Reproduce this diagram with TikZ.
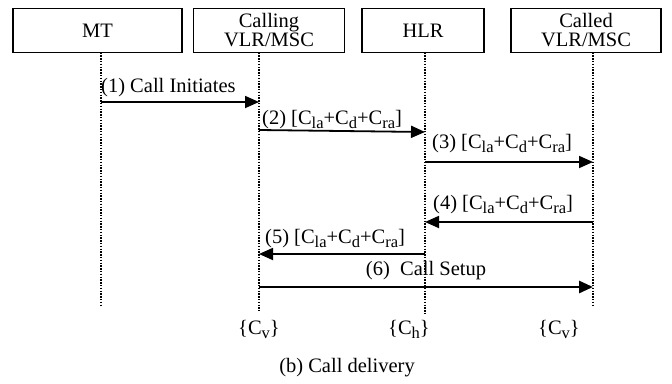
\documentclass[tikz,border=0pt]{standalone}
\usepackage{fontspec}
\setmainfont{Liberation Serif}
\usetikzlibrary{arrows.meta}

% lowered index set a little larger than the default subscript size
\newcommand{\sub}[1]{\raisebox{-4pt}{\fontsize{16.5}{16.5}\selectfont #1}}
\newcommand{\cost}{[C\sub{la}+C\sub{d}+C\sub{ra}]}

\begin{document}
\begin{tikzpicture}[x=1pt,y=-1pt,
  every node/.style={font=\fontsize{20.5}{19}\selectfont, inner sep=0pt},
  entity/.style={draw, line width=1.8pt, minimum height=44pt, align=center},
  lifeline/.style={line width=1.3pt, dash pattern=on 1.4pt off 1.4pt},
  msg/.style={line width=1.8pt, -{Triangle[length=14pt,width=12pt]}},
  bigmsg/.style={msg, line width=2.8pt},
  lbl/.style={anchor=base west}]
\useasboundingbox (0,0) rectangle (672,383);

% entities
\node[entity, minimum width=169pt] (mt)   at (97.5,30.5) {MT};
\node[entity, minimum width=151pt] (cvlr) at (269,30.5) {Calling\\VLR/MSC};
\node[entity, minimum width=122pt] (hlr)  at (423,30.5) {HLR};
\node[entity, minimum width=150pt] (dvlr) at (586,30.5) {Called\\VLR/MSC};

% lifelines
\coordinate (mtT) at (101,52.5);  \coordinate (mtB) at (101,307);
\coordinate (cvT) at (259,52.5);  \coordinate (cvB) at (259,311);
\coordinate (hlT) at (425,52.5);  \coordinate (hlB) at (425,314);
\coordinate (dvT) at (593,52.5);  \coordinate (dvB) at (593,307);
\draw[lifeline] (mtT) -- (mtB);
\draw[lifeline] (cvT) -- (cvB);
\draw[lifeline] (hlT) -- (hlB);
\draw[lifeline] (dvT) -- (dvB);

% message end points
\coordinate (m1a) at (101,102); \coordinate (m1b) at (259,102);
\coordinate (m2a) at (259,130); \coordinate (m2b) at (425,132);
\coordinate (m3a) at (425,162); \coordinate (m3b) at (593,162);
\coordinate (m4a) at (593,222); \coordinate (m4b) at (425,222);
\coordinate (m5a) at (425,254); \coordinate (m5b) at (259,254);
\coordinate (m6a) at (259,287); \coordinate (m6b) at (593,287);

% messages
\draw[msg] (m1a) -- (m1b);
\draw[msg] (m2a) -- (m2b);
\draw[msg] (m3a) -- (m3b);
\draw[msg] (m4a) -- (m4b);
\draw[msg] (m5a) -- (m5b);
\draw[bigmsg] (m6a) -- (m6b);

% message labels
\node[lbl] (l1) at (101,92)  {(1) Call Initiates};
\node[lbl] (l2) at (262,124) {(2) \cost};
\node[lbl] (l3) at (432,148) {(3) \cost};
\node[lbl] (l4) at (433,209) {(4) \cost};
\node[lbl] (l5) at (265,243) {(5) \cost};
\node[anchor=base] (l6) at (426,275) {(6)\ \ Call Setup};

% cost sets
\node[anchor=base] (s1) at (259,334) {\{C\sub{v}\}};
\node[anchor=base] (s2) at (409,334) {\{C\sub{h}\}};
\node[anchor=base] (s3) at (559,334) {\{C\sub{v}\}};

% caption
\node[anchor=base] (cap) at (347,372) {(b) Call delivery};
\end{tikzpicture}
\end{document}
